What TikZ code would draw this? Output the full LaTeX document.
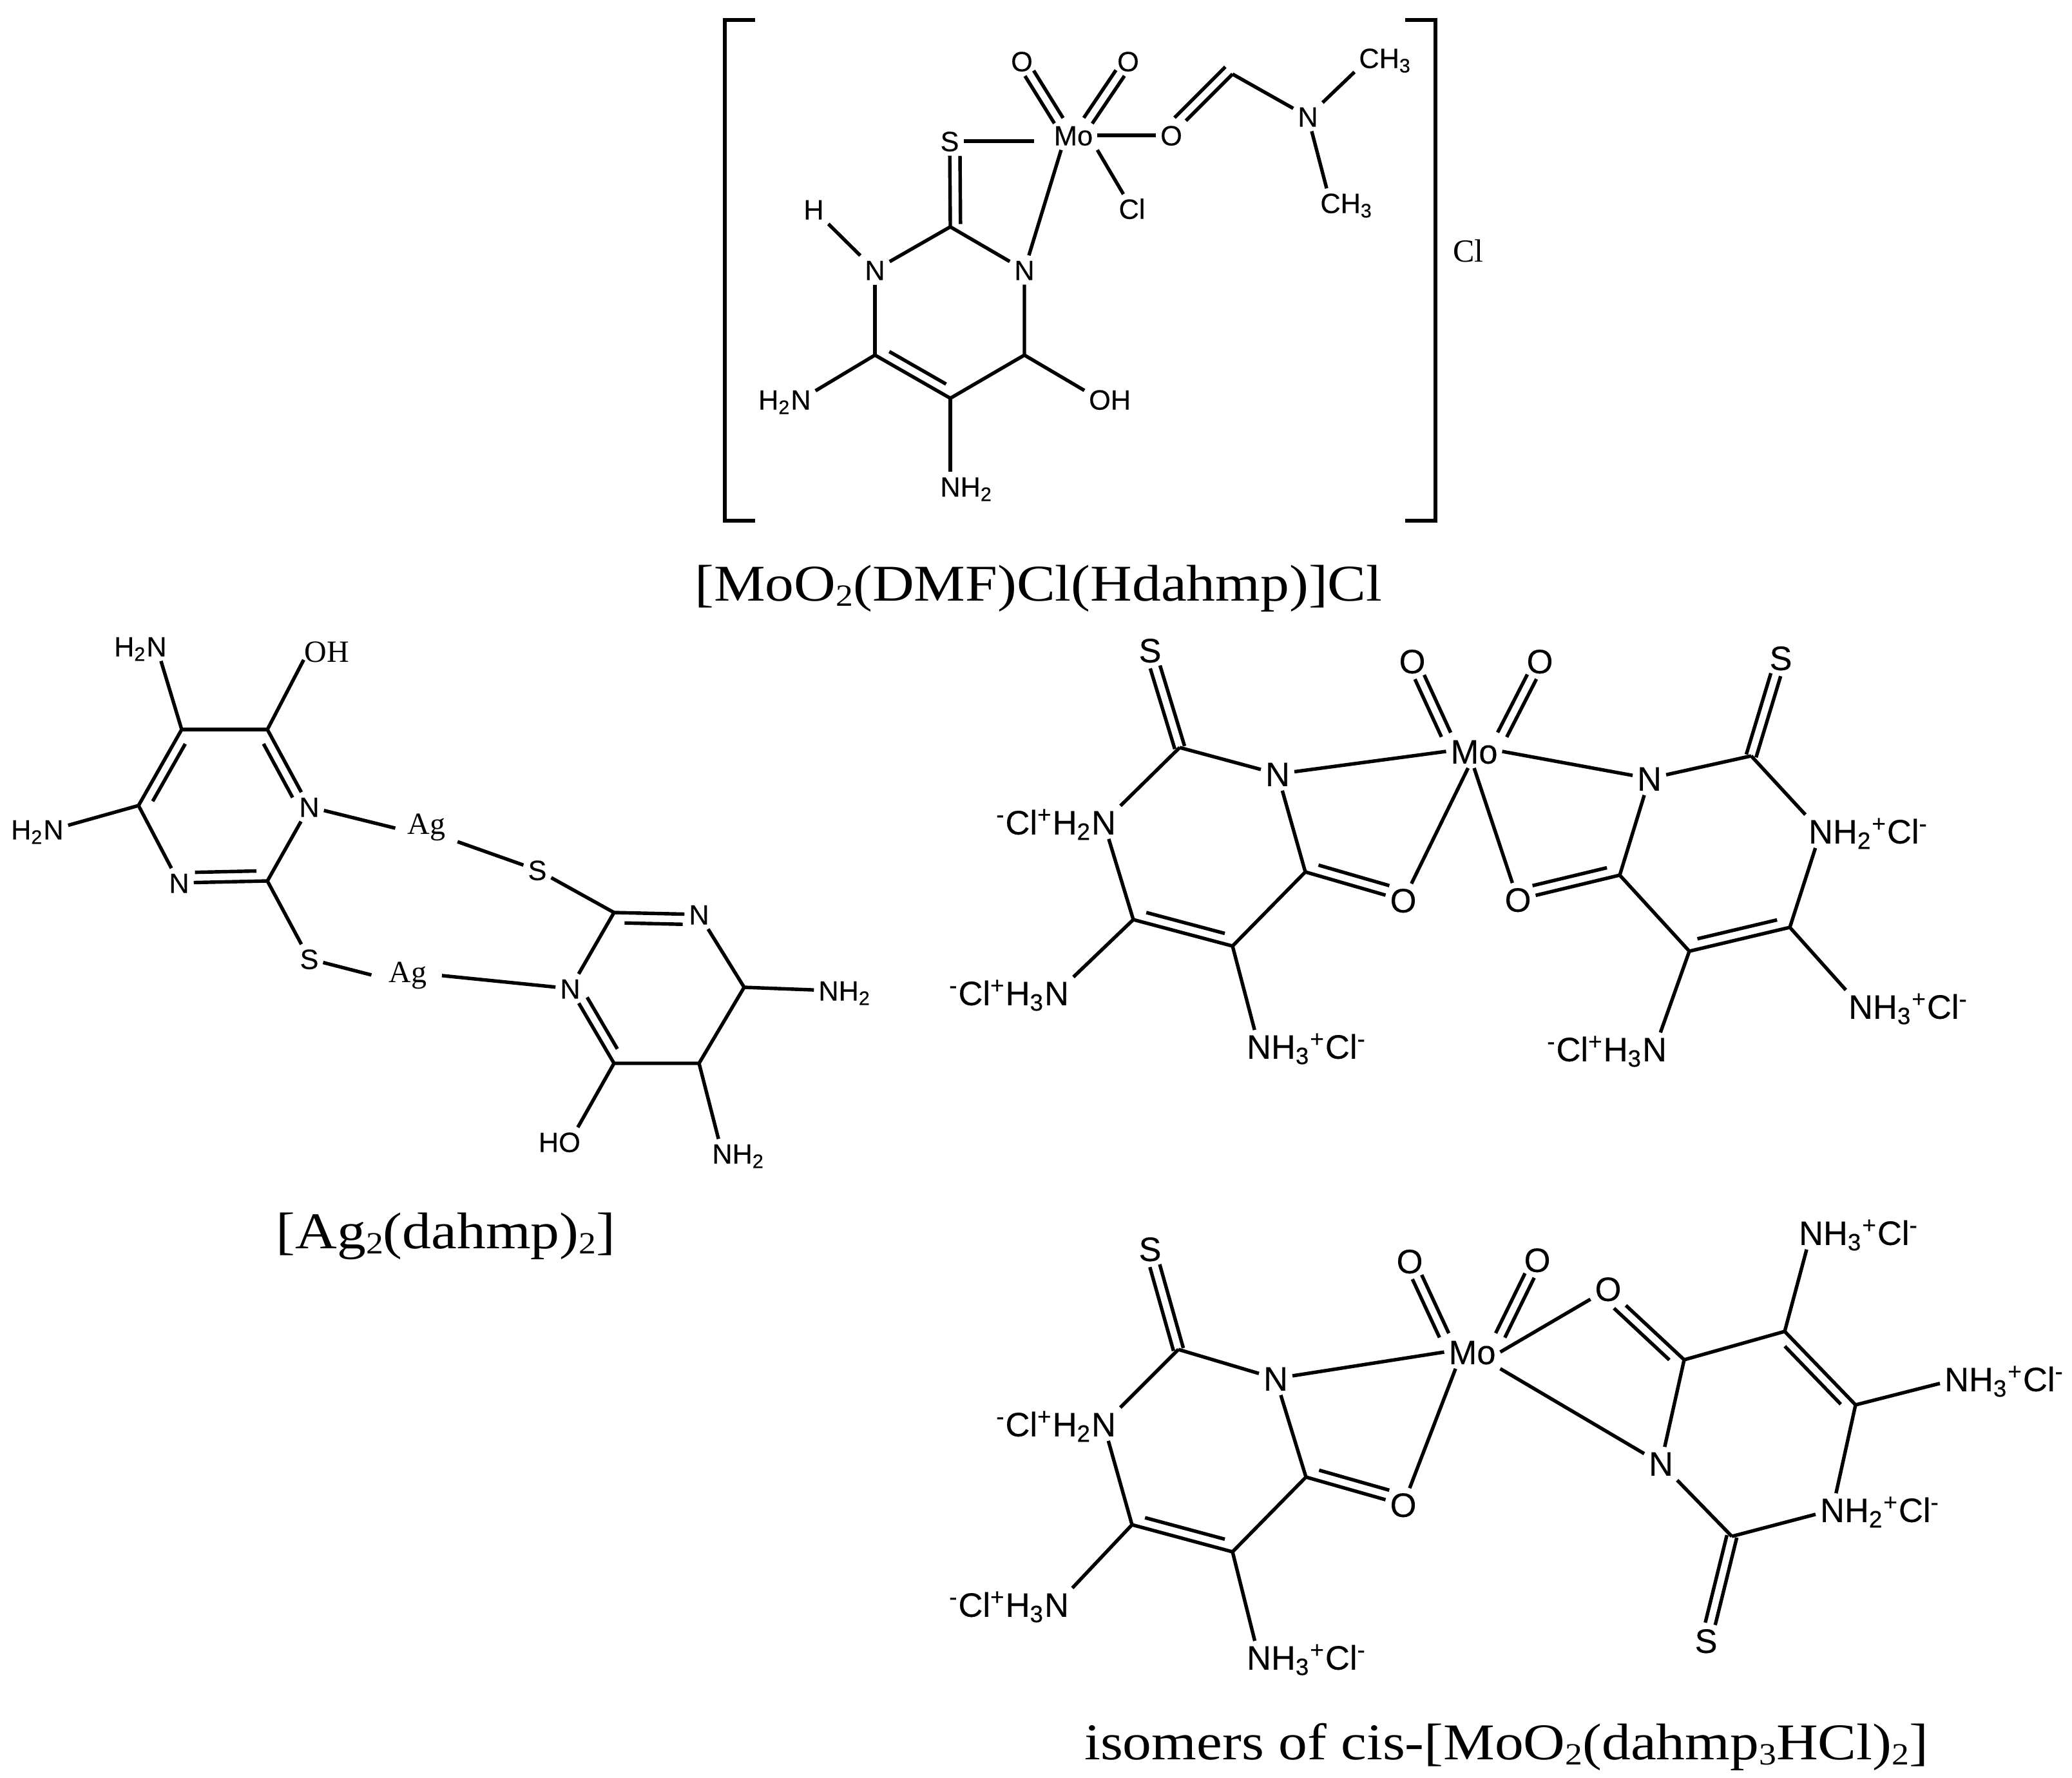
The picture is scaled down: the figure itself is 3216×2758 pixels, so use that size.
\documentclass[tikz,border=0pt]{standalone}
\usepackage{fontspec}
\usetikzlibrary{calc}
\setmainfont{Liberation Serif}
\newfontfamily\atomfont[FakeBold=0.3]{Liberation Sans}
\newfontfamily\capfont[FakeStretch=1.12]{Liberation Serif}
\tikzset{
  bond/.style={line width=1.3pt},
  brk/.style={line width=1.5pt},
  atom/.style={font=\atomfont\fontsize{10.4}{12}\selectfont,inner sep=1.5pt,text height=7.5pt,text depth=0pt},
  atomb/.style={font=\atomfont\fontsize{12.6}{14}\selectfont,inner sep=1.5pt,text height=9pt,text depth=0pt},
  atoms/.style={font=\fontsize{11.5}{13}\selectfont,inner sep=1.5pt,text height=7.6pt,text depth=0pt},
  caption/.style={font=\capfont\fontsize{19.2}{22}\selectfont,inner sep=0pt,anchor=base},
}
\def\dgap{3.8pt}
\def\dhalf{1.9pt}
% double bonds: main line and a shorter one on its left / right, or two equal ones
\newcommand{\dbondl}[3][]{%
  \draw[bond] (#2) -- (#3);
  \draw[bond,shorten <=4pt,shorten >=4pt,#1] ($(#2)!\dgap!90:(#3)$) -- ($(#3)!\dgap!-90:(#2)$);}
\newcommand{\dbondr}[3][]{%
  \draw[bond] (#2) -- (#3);
  \draw[bond,shorten <=4pt,shorten >=4pt,#1] ($(#2)!\dgap!-90:(#3)$) -- ($(#3)!\dgap!90:(#2)$);}
\newcommand{\dbonds}[3][]{%
  \draw[bond,#1] ($(#2)!\dhalf!90:(#3)$) -- ($(#3)!\dhalf!-90:(#2)$);
  \draw[bond,#1] ($(#2)!\dhalf!-90:(#3)$) -- ($(#3)!\dhalf!90:(#2)$);}
\newcommand{\nhthree}{\rlap{H\textsubscript{3}\textsuperscript{+}Cl\textsuperscript{-}}}
\newcommand{\nhtwo}{\rlap{H\textsubscript{2}\textsuperscript{+}Cl\textsuperscript{-}}}
% small figures in the captions
\newcommand{\csub}[1]{\raisebox{-.1em}{\fontsize{11.5}{13}\selectfont #1}}
\begin{document}
\begin{tikzpicture}[x=0.24pt,y=-0.24pt]
  \useasboundingbox (0,0) rectangle (3216,2758);
  % brackets
  \draw[brk] (1172,31) -- (1125,31) -- (1125,808) -- (1172,808);
  \draw[brk] (2181,31) -- (2228,31) -- (2228,808) -- (2181,808);
  \node[font=\fontsize{12}{14}\selectfont,inner sep=0pt] (aClout) at (2279,389) {Cl};
  % [MoO2(DMF)Cl(Hdahmp)]Cl
  \node[atom] (aMo) at (1666,210) {Mo};
  \node[atom] (aS) at (1474,219) {S};
  \node[atom] (aO1) at (1586,95) {O};
  \node[atom] (aO2) at (1751,95) {O};
  \node[atom] (aO3) at (1818,210) {O};
  \node[atom] (aCl) at (1757,324) {Cl};
  \node[atom] (aNd) at (2030,181) {N};
  \node[atom] (aMe1) at (2125,90) {C\rlap{H\textsubscript{3}}};
  \node[atom] (aMe2) at (2065,315) {C\rlap{H\textsubscript{3}}};
  \node[atom] (aH) at (1263,325) {H};
  \node[atom] (aN1) at (1358,419) {N};
  \node[atom] (aN2) at (1590,419) {N};
  \node[atom] (aN3) at (1243,620) {\llap{H\textsubscript{2}}N};
  \node[atom] (aOH) at (1707,620) {O\rlap{H}};
  \node[atom] (aN4) at (1475,755) {N\rlap{H\textsubscript{2}}};
  \coordinate (aCd) at (1913,115);
  \coordinate (aC2) at (1475,352);
  \coordinate (aC4) at (1358,551);
  \coordinate (aC6) at (1590,551);
  \coordinate (aC5) at (1475,618);
  \dbonds[shorten <=5.3pt]{aO1}{aMo.135}
  \dbonds[shorten <=5.3pt]{aO2}{aMo.45}
  \draw[bond,shorten >=5.8pt] (aS) -- (aS -| aMo.west);
  \draw[bond] (aMo) -- (aO3);
  \draw[bond] (aMo.south east) -- (aCl);
  \draw[bond] (aN2) -- (aMo.230);
  \dbondr[shorten <=0pt,shorten >=5.5pt]{aCd}{aO3}
  \draw[bond] (aCd) -- (aNd);
  \draw[bond] (aNd) -- (aMe1);
  \draw[bond] (aNd) -- (aMe2);
  \dbondr[shorten <=1pt,shorten >=5.5pt]{aC2}{aS}
  \draw[bond] (aH) -- (aN1);
  \draw[bond] (aN1) -- (aC2) -- (aN2);
  \draw[bond] (aN1) -- (aC4);
  \draw[bond] (aN2) -- (aC6) -- (aC5);
  \dbondl{aC4}{aC5}
  \draw[bond] (aC4) -- (aN3);
  \draw[bond] (aC6) -- (aOH);
  \draw[bond] (aC5) -- (aN4);
  \node[caption] (acap) at (1612,932) {[MoO\csub{2}(DMF)Cl(Hdahmp)]Cl};
  % [Ag2(dahmp)2]
  \node[atom] (bN1) at (480,1252) {N};
  \node[atom] (bN3) at (278,1370) {N};
  \node[atom] (bNa) at (243,1003) {\llap{H\textsubscript{2}}N};
  \node[atom] (bNb) at (83,1287) {\llap{H\textsubscript{2}}N};
  \node[atoms] (bOH) at (490,1012) {O\rlap{H}};
  \node[atom] (bS1) at (480,1488) {S};
  \node[atoms] (bAg1) at (662,1279) {Ag};
  \node[atom] (bS2) at (834,1350) {S};
  \node[atoms] (bAg2) at (633,1509) {Ag};
  \node[atom] (bN4) at (1085,1419) {N};
  \node[atom] (bN6) at (885,1534) {N};
  \node[atom] (bNc) at (1286,1537) {N\rlap{H\textsubscript{2}}};
  \node[atom] (bNd) at (1121,1790) {N\rlap{H\textsubscript{2}}};
  \node[atom] (bHO) at (884,1772) {\llap{H}O};
  \coordinate (bC5) at (282,1132);
  \coordinate (bC6) at (415,1132);
  \coordinate (bC4) at (215,1250);
  \coordinate (bC2) at (415,1367);
  \coordinate (bC7) at (953,1416);
  \coordinate (bC8) at (1155,1532);
  \coordinate (bC9) at (953,1650);
  \coordinate (bC10) at (1085,1650);
  \draw[bond] (bC5) -- (bC6);
  \dbondl{bC5}{bC4}
  \dbondr[shorten >=6pt]{bC6}{bN1}
  \draw[bond] (bN1) -- (bC2);
  \dbondr[shorten >=6pt]{bC2}{bN3}
  \draw[bond] (bN3) -- (bC4);
  \draw[bond] (bC5) -- (bNa);
  \draw[bond] (bC4) -- (bNb);
  \draw[bond,shorten >=-3pt] (bC6) -- (bOH.south west);
  \draw[bond] (bC2) -- (bS1);
  \draw[bond,shorten >=5pt] (bS1) -- (bAg2.194);
  \draw[bond,shorten >=3pt] (bN1) -- (bAg1.194);
  \draw[bond,shorten <=3pt] (bAg1.south east) -- (bS2);
  \draw[bond] (bS2) -- (bC7);
  \draw[bond,shorten <=4pt] (bAg2.355) -- (bN6);
  \dbondr[shorten >=6pt]{bC7}{bN4}
  \draw[bond] (bC7) -- (bN6);
  \draw[bond] (bN4) -- (bC8) -- (bC10) -- (bC9);
  \dbondr[shorten >=6pt]{bC9}{bN6}
  \draw[bond] (bC8) -- (bNc);
  \draw[bond] (bC10) -- (bNd);
  \draw[bond] (bC9) -- (bHO);
  \node[caption] (bcap) at (692,1937) {[Ag\csub{2}(dahmp)\csub{2}]};
  % first isomer
  \node[atomb] (cMo) at (2288,1166) {Mo};
  \node[atomb] (cS1) at (1785,1009) {S};
  \node[atomb] (cS2) at (2764,1021) {S};
  \node[atomb] (cO1) at (2192,1026) {O};
  \node[atomb] (cO2) at (2390,1026) {O};
  \node[atomb] (cO3) at (2178,1397) {O};
  \node[atomb] (cO4) at (2356,1396) {O};
  \node[atomb] (cN1) at (1983,1201) {N};
  \node[atomb] (cN2) at (2560,1208) {N};
  \node[atomb] (cN3) at (1713,1276) {\llap{\textsuperscript{-}Cl\textsuperscript{+}H\textsubscript{2}}N};
  \node[atomb] (cN4) at (2826,1290) {N\nhtwo};
  \node[atomb] (cN5) at (1640,1541) {\llap{\textsuperscript{-}Cl\textsuperscript{+}H\textsubscript{3}}N};
  \node[atomb] (cN6) at (1954,1624) {N\nhthree};
  \node[atomb] (cN7) at (2568,1628) {\llap{\textsuperscript{-}Cl\textsuperscript{+}H\textsubscript{3}}N};
  \node[atomb] (cN8) at (2888,1562) {N\nhthree};
  \coordinate (cC1) at (1831,1160);
  \coordinate (cC2) at (2026,1353);
  \coordinate (cC3) at (1759,1427);
  \coordinate (cC4) at (1913,1468);
  \coordinate (cC5) at (2718,1173);
  \coordinate (cC6) at (2514,1358);
  \coordinate (cC7) at (2778,1439);
  \coordinate (cC8) at (2622,1476);
  \dbonds[shorten <=6.5pt]{cO1}{cMo.north west}
  \dbonds[shorten <=6.5pt]{cO2}{cMo.north east}
  \dbonds[shorten <=6.5pt]{cS1}{cC1}
  \dbonds[shorten <=6.5pt]{cS2}{cC5}
  \draw[bond] (cN1) -- (cMo.west);
  \draw[bond] (cN2) -- (cMo.east);
  \draw[bond] (cO3) -- (cMo.250);
  \draw[bond] (cO4) -- (cMo.south);
  \draw[bond] (cC1) -- (cN1) -- (cC2);
  \draw[bond] (cC1) -- (cN3) -- (cC3);
  \dbondl[shorten >=6.5pt]{cC2}{cO3}
  \dbondl{cC3}{cC4}
  \draw[bond] (cC4) -- (cC2);
  \draw[bond] (cC3) -- (cN5);
  \draw[bond] (cC4) -- (cN6);
  \draw[bond] (cC5) -- (cN2) -- (cC6);
  \draw[bond] (cC5) -- (cN4) -- (cC7);
  \dbondr[shorten >=6.5pt]{cC6}{cO4}
  \dbondl{cC8}{cC7}
  \draw[bond] (cC6) -- (cC8);
  \draw[bond] (cC7) -- (cN8);
  \draw[bond] (cC8) -- (cN7);
  % second isomer
  \node[atomb] (dMo) at (2285,2098) {Mo};
  \node[atomb] (dS1) at (1785,1938) {S};
  \node[atomb] (dS2) at (2648,2546) {S};
  \node[atomb] (dO1) at (2188,1957) {O};
  \node[atomb] (dO2) at (2386,1955) {O};
  \node[atomb] (dO3) at (2496,2000) {O};
  \node[atomb] (dO4) at (2178,2335) {O};
  \node[atomb] (dN1) at (1980,2139) {N};
  \node[atomb] (dN2) at (2578,2271) {N};
  \node[atomb] (dN3) at (1713,2210) {\llap{\textsuperscript{-}Cl\textsuperscript{+}H\textsubscript{2}}N};
  \node[atomb] (dN4) at (2811,1913) {N\nhthree};
  \node[atomb] (dN5) at (3037,2140) {N\nhthree};
  \node[atomb] (dN6) at (2844,2343) {N\nhtwo};
  \node[atomb] (dN7) at (1640,2490) {\llap{\textsuperscript{-}Cl\textsuperscript{+}H\textsubscript{3}}N};
  \node[atomb] (dN8) at (1954,2572) {N\nhthree};
  \coordinate (dC1) at (1829,2094);
  \coordinate (dC2) at (2027,2292);
  \coordinate (dC3) at (1757,2366);
  \coordinate (dC4) at (1913,2408);
  \coordinate (dC5) at (2614,2110);
  \coordinate (dC6) at (2770,2066);
  \coordinate (dC7) at (2880,2180);
  \coordinate (dC8) at (2688,2384);
  \dbonds[shorten <=6.5pt]{dO1}{dMo.north west}
  \dbonds[shorten <=6.5pt]{dO2}{dMo.north east}
  \dbonds[shorten <=6.5pt]{dS1}{dC1}
  \dbonds[shorten <=6.5pt]{dS2}{dC8}
  \draw[bond] (dN1) -- (dMo.west);
  \draw[bond] (dO4) -- (dMo.225);
  \draw[bond] (dO3) -- (dMo.east);
  \draw[bond] (dN2) -- (dMo.south east);
  \draw[bond] (dC1) -- (dN1) -- (dC2);
  \draw[bond] (dC1) -- (dN3) -- (dC3);
  \dbondl[shorten >=6.5pt]{dC2}{dO4}
  \dbondl{dC3}{dC4}
  \draw[bond] (dC4) -- (dC2);
  \draw[bond] (dC3) -- (dN7);
  \draw[bond] (dC4) -- (dN8);
  \dbondl[shorten >=6.5pt]{dC5}{dO3}
  \draw[bond] (dC5) -- (dC6);
  \dbondr{dC6}{dC7}
  \draw[bond] (dC6) -- (dN4);
  \draw[bond] (dC7) -- (dN5);
  \draw[bond] (dC7) -- (dN6) -- (dC8);
  \draw[bond] (dC8) -- (dN2) -- (dC5);
  \node[caption] (dcap) at (2338,2730) {isomers of cis-[MoO\csub{2}(dahmp\csub{3}HCl)\csub{2}]};
\end{tikzpicture}
\end{document}
